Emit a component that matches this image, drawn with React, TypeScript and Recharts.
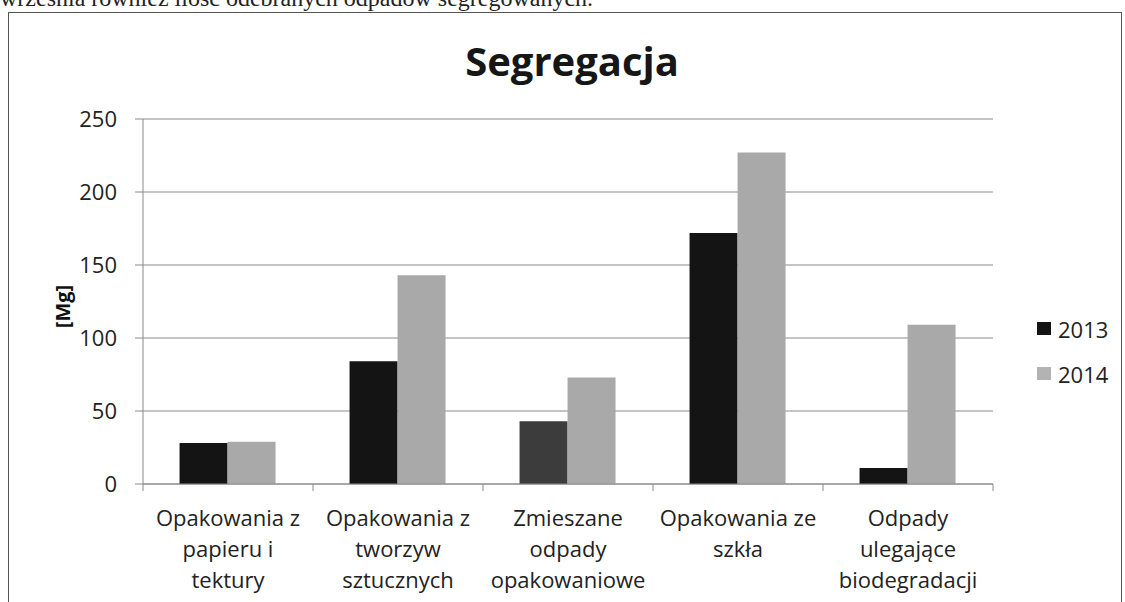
import React from 'react';
import { BarChart, Bar, XAxis, YAxis, CartesianGrid, Legend, Cell } from 'recharts';

const categories: string[] = [
  'Opakowania z\npapieru i\ntektury',
  'Opakowania z\ntworzyw\nsztucznych',
  'Zmieszane\nodpady\nopakowaniowe',
  'Opakowania ze\nszkła',
  'Odpady\nulegające\nbiodegradacji',
];
const values2013: number[] = [28, 84, 43, 172, 11];
const values2014: number[] = [29, 143, 73, 227, 109];
const yTicks: number[] = [0, 50, 100, 150, 200, 250];
const seriesNames: string[] = ['2013', '2014'];

const data = categories.map((name, i) => ({
  name,
  v2013: values2013[i],
  v2014: values2014[i],
}));

const FONT = '"Open Sans", "Noto Sans", sans-serif';
const W = 1125;
const H = 602;
const PLOT_LEFT = 143;
const PLOT_RIGHT = 993;
const PLOT_TOP = 119;
const PLOT_BOTTOM = 484;
const Y_AXIS_W = 60;
const X_AXIS_H = 110;
const BAND = (PLOT_RIGHT - PLOT_LEFT) / categories.length;
const GRID = '#8a8a8a';
const DARK = '#141414';
const GRAY = '#a9a9a9';

const CategoryTick = (props: any) => {
  const { x, y, payload, index } = props;
  const lines = String(payload.value).split('\n');
  const half = BAND / 2;
  return (
    <g>
      <line x1={x - half} x2={x - half} y1={y} y2={y + 7} stroke={GRID} strokeWidth={1} />
      {index === categories.length - 1 && (
        <line x1={x + half} x2={x + half} y1={y} y2={y + 7} stroke={GRID} strokeWidth={1} />
      )}
      <text x={x} y={y} textAnchor="middle" fontFamily={FONT} fontSize={22} fill="#222">
        {lines.map((l, i) => (
          <tspan key={i} x={x} y={y + 42 + i * 31}>
            {l}
          </tspan>
        ))}
      </text>
    </g>
  );
};

const LegendContent = (props: any) => {
  const { payload } = props;
  return (
    <div style={{ fontFamily: FONT, fontSize: 22, color: '#222' }}>
      {(payload || []).map((p: any, i: number) => (
        <div key={i} style={{ display: 'flex', alignItems: 'center', height: 45 }}>
          <span
            style={{
              display: 'inline-block',
              width: 14,
              height: 13,
              background: i === 0 ? DARK : '#b3b3b3',
              marginRight: 7,
            }}
          />
          <span style={{ lineHeight: '22px' }}>{p.value}</span>
        </div>
      ))}
    </div>
  );
};

const MgLabel = (props: any) => {
  const { viewBox } = props;
  const cx = viewBox.x - 21;
  const cy = viewBox.y + viewBox.height / 2 + 5;
  return (
    <text
      x={cx}
      y={cy}
      transform={`rotate(-90, ${cx}, ${cy})`}
      textAnchor="middle"
      dominantBaseline="central"
      fontFamily={FONT}
      fontWeight="bold"
      fontSize={20}
      fill="#111"
    >
      [Mg]
    </text>
  );
};

export default function App() {
  return (
    <div
      style={{
        position: 'absolute',
        left: 0,
        top: 0,
        width: W,
        height: H,
        overflow: 'hidden',
        background: '#fff',
      }}
    >
      <div
        style={{
          position: 'absolute',
          left: 0,
          top: -14,
          fontFamily: '"Liberation Serif", "DejaVu Serif", serif',
          fontSize: 24,
          lineHeight: '24px',
          color: '#222',
          whiteSpace: 'nowrap',
        }}
      >
        września również ilość odebranych odpadów segregowanych.
      </div>
      <div
        style={{
          position: 'absolute',
          left: 8,
          top: 12,
          width: 1114,
          height: 640,
          border: '1.5px solid #555',
          boxSizing: 'border-box',
        }}
      />
      <div
        style={{
          position: 'absolute',
          left: 0,
          top: 41,
          width: W,
          textAlign: 'center',
          paddingLeft: 19,
          boxSizing: 'border-box',
          fontFamily: FONT,
          fontWeight: 'bold',
          fontSize: 40,
          lineHeight: '40px',
          color: '#161616',
        }}
      >
        Segregacja
      </div>
      <div style={{ position: 'absolute', left: 0, top: 0 }}>
        <BarChart
          width={W}
          height={H}
          data={data}
          margin={{
            top: PLOT_TOP,
            right: W - PLOT_RIGHT,
            left: PLOT_LEFT - Y_AXIS_W,
            bottom: H - PLOT_BOTTOM - X_AXIS_H,
          }}
          barCategoryGap="21.5%"
          barGap={0}
        >
          <CartesianGrid horizontal vertical={false} stroke={GRID} strokeWidth={1} />
          <XAxis
            dataKey="name"
            interval={0}
            height={X_AXIS_H}
            tickLine={false}
            tickSize={0}
            tickMargin={0}
            axisLine={{ stroke: GRID, strokeWidth: 1 }}
            tick={<CategoryTick />}
          />
          <YAxis
            width={Y_AXIS_W}
            domain={[0, 250]}
            ticks={yTicks}
            interval={0}
            tickSize={8}
            tickMargin={18}
            tickLine={{ stroke: GRID }}
            axisLine={{ stroke: GRID, strokeWidth: 1 }}
            tick={{ fontFamily: FONT, fontSize: 22, fill: '#222' }}
            label={<MgLabel />}
          />
          <Legend
            layout="vertical"
            align="center"
            verticalAlign="middle"
            content={<LegendContent />}
            wrapperStyle={{ left: 1037, top: 306, width: 88 }}
          />
          <Bar dataKey="v2013" name={seriesNames[0]} fill={DARK} isAnimationActive={false}>
            {values2013.map((_, i) => (
              <Cell key={i} fill={i === 2 ? '#3c3c3c' : DARK} />
            ))}
          </Bar>
          <Bar dataKey="v2014" name={seriesNames[1]} fill={GRAY} isAnimationActive={false} />
        </BarChart>
      </div>
    </div>
  );
}
